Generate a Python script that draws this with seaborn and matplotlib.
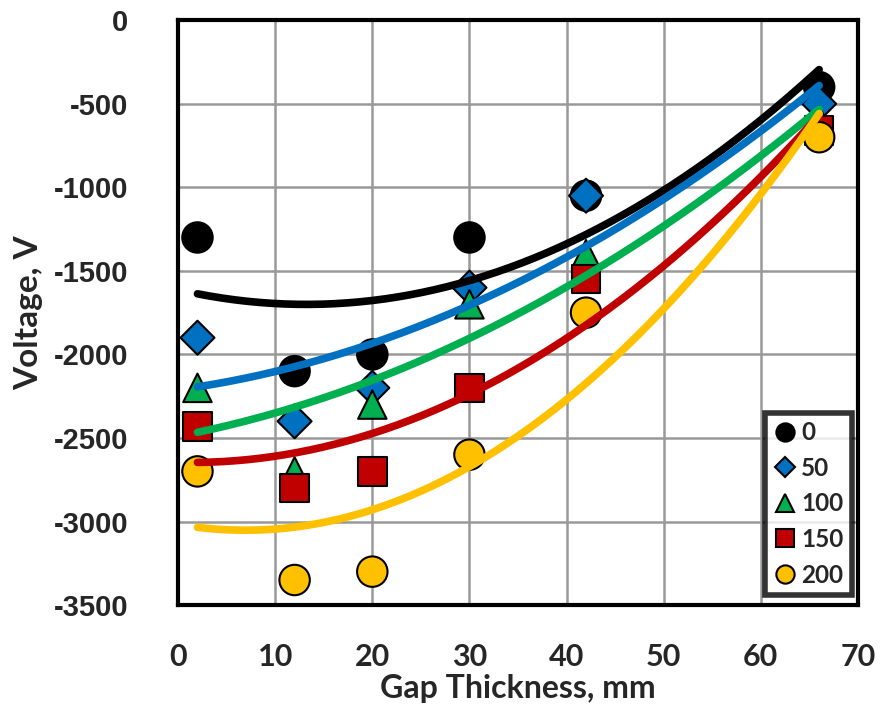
import numpy as np
import pandas as pd
import seaborn as sns
import matplotlib.pyplot as plt

# gap thickness, mm
gap = [2, 12, 20, 30, 42, 66]

# voltage for each load level
v_0 = [-1300, -2100, -2000, -1300, -1050, -400]
v_50 = [-1900, -2400, -2200, -1600, -1050, -500]
v_100 = [-2200, -2700, -2300, -1700, -1400, -600]
v_150 = [-2430, -2800, -2700, -2200, -1550, -660]
v_200 = [-2700, -3350, -3300, -2600, -1750, -700]

levels = ['0', '50', '100', '150', '200']
series = [v_0, v_50, v_100, v_150, v_200]

colors = ['#000000', '#0070C0', '#00B050', '#C00000', '#FFC000']
markers = ['o', 'D', '^', 's', 'o']
sizes = [480, 300, 420, 420, 480]

df = pd.DataFrame({
    'gap': gap * len(levels),
    'voltage': sum(series, []),
    'load': [lv for lv in levels for _ in gap],
})

sns.set_style('white')
plt.rcParams['font.family'] = ['Lato', 'DejaVu Sans']
plt.rcParams['font.weight'] = 'bold'
plt.rcParams['axes.unicode_minus'] = False

fig = plt.figure(figsize=(8.84, 7.11), dpi=100)
ax = fig.add_axes([0.2014, 0.149, 0.7692, 0.8225])

sns.scatterplot(df, x='gap', y='voltage',
                hue='load', style='load', size='load',
                hue_order=levels, style_order=levels, size_order=levels,
                palette=dict(zip(levels, colors)),
                markers=dict(zip(levels, markers)),
                sizes=dict(zip(levels, sizes)),
                edgecolor='black', linewidth=1.5,
                zorder=3, ax=ax)

# polynomial (2nd order) trendlines like the spreadsheet
xs = np.linspace(min(gap), max(gap), 200)
for lv, vals, c in zip(levels, series, colors):
    coef = np.polyfit(gap, vals, 2)
    sns.lineplot(x=xs, y=np.polyval(coef, xs), color=c, linewidth=5.5,
                 solid_capstyle='round', zorder=4, ax=ax, legend=False)

ax.set_xlim(0, 70)
ax.set_ylim(-3500, 0)
ax.set_xticks(range(0, 71, 10))
ax.set_yticks(range(-3500, 1, 500))
ax.grid(True, color='#999999', linewidth=1.8)
ax.set_axisbelow(True)
for sp in ax.spines.values():
    sp.set_color('black')
    sp.set_linewidth(3)

ax.tick_params(axis='x', length=0, labelsize=22, pad=27)
ax.tick_params(axis='y', length=0, labelsize=21, pad=36)
for t in ax.get_yticklabels():
    t.set_family('Liberation Sans')
    t.set_fontweight('bold')
for t in ax.get_xticklabels():
    t.set_fontweight('bold')

ax.set_xlabel('Gap Thickness, mm', fontsize=23, fontweight='bold')
ax.set_ylabel('Voltage, V', fontsize=24, fontweight='bold')
ax.xaxis.set_label_coords(0.5, -0.118)
ax.yaxis.set_label_coords(-0.199, 0.5)

handles, labels = ax.get_legend_handles_labels()
leg = ax.legend(handles, labels, loc='lower right', bbox_to_anchor=(0.991, 0.017),
                markerscale=0.6, frameon=True, fancybox=False, edgecolor='black',
                prop={'size': 17.5, 'weight': 'bold'}, handletextpad=0.15,
                labelspacing=0.52, borderpad=0.35, handlelength=1.0,
                borderaxespad=0)
leg.get_frame().set_linewidth(4)

fig.savefig('out.png', dpi=100)
